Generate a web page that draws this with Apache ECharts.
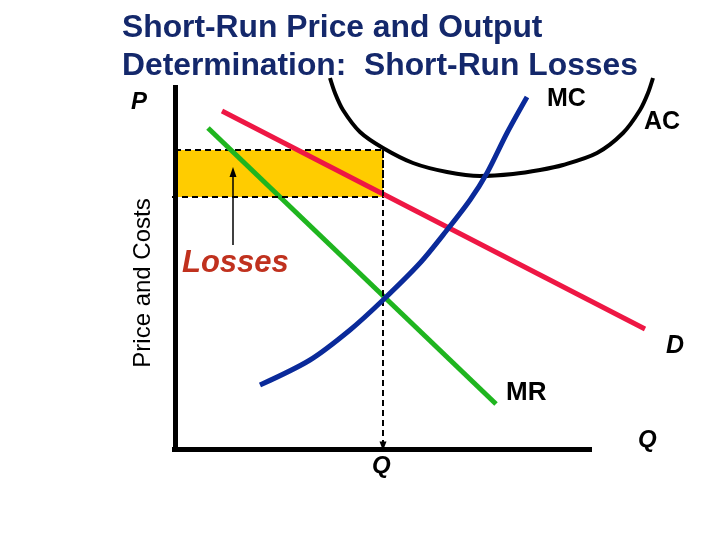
<!DOCTYPE html>
<html><head><meta charset="utf-8">
<script src="https://cdn.jsdelivr.net/npm/echarts@6/dist/echarts.min.js"></script>
<style>html,body{margin:0;padding:0;background:#fff}#c{width:720px;height:540px}</style>
</head><body><div id="c"></div>
<script>
// Demand (D)
const demandX = [47, 470];
const demandY = [338, 120];
// Marginal revenue (MR)
const mrX = [33, 321];
const mrY = [321, 45];
// Marginal cost (MC)
const mcX = [85, 135, 175, 208, 245, 272, 295, 312, 332, 352];
const mcY = [64, 89, 119, 149, 186, 219, 249, 276, 316, 352];
// Average cost (AC)
const acX = [155, 160, 168, 185, 208, 238, 272, 305, 338, 365, 388, 422, 448, 465, 473, 478];
const acY = [371, 356, 339, 317, 301, 286, 277, 273, 275, 279, 284, 296, 316, 339, 356, 371];
// Axis extents (quantity and price axes)
const qAxisMax = 417, pAxisMax = 364;
// Key levels
const qStar = 208, price = 252, avgCost = 299;
const lossArrowX = 58, lossArrowY = [204, 277];

const zip = (xs, ys) => xs.map((x, i) => [x, ys[i]]);
const FF = '"Liberation Sans", Arial, sans-serif';

const chart = echarts.init(document.getElementById('c'), null, {renderer: 'canvas'});
chart.setOption({
  animation: false,
  backgroundColor: '#fff',
  title: {
    text: 'Short-Run Price and Output\nDetermination:  Short-Run Losses',
    left: 117, top: 4,
    textStyle: {fontFamily: FF, fontSize: 31.8, fontWeight: 'bold', color: '#14286b', lineHeight: 38}
  },
  grid: {left: 170, top: 0, right: 0, bottom: 86},
  xAxis: {type: 'value', min: -5, max: 545, show: false},
  yAxis: {type: 'value', min: -5, max: 449, show: false},
  series: [
    {type: 'line', data: [], z: 1, silent: true,
      markArea: {silent: true,
        itemStyle: {color: '#FFCC00', borderColor: '#000', borderWidth: 2, borderType: [6, 4]},
        data: [[{coord: [0, avgCost]}, {coord: [qStar, price]}]]},
      markLine: {silent: true, symbol: ['none', 'none'], label: {show: false},
        lineStyle: {color: '#000', width: 2, type: [6, 4]},
        data: [
          [{coord: [-3, price]}, {coord: [qStar, price]}],
          [{coord: [lossArrowX, lossArrowY[0]], lineStyle: {type: 'solid', width: 1.5}},
           {coord: [lossArrowX, lossArrowY[1]], symbol: 'triangle', symbolSize: [7, 10]}]
        ]}
    },
    {type: 'line', data: [], z: 6, silent: true,
      markLine: {silent: true, symbol: ['none', 'none'], label: {show: false},
        lineStyle: {color: '#000', width: 5, type: 'solid'},
        data: [
          [{coord: [-3, 0]}, {coord: [qAxisMax, 0]}],
          [{coord: [0, -2]}, {coord: [0, pAxisMax]}]
        ]}
    },
    {type: 'line', data: [], z: 7, silent: true,
      markLine: {silent: true, symbol: ['none', 'none'], label: {show: false},
        lineStyle: {color: '#000', width: 2, type: [6, 4]},
        data: [
          [{coord: [qStar, avgCost]}, {coord: [qStar, 3], symbol: 'triangle', symbolSize: [7, 9], symbolRotate: 180}]
        ]}
    },
    {name: 'AC', type: 'line', data: zip(acX, acY), smooth: 0.3, showSymbol: false, z: 3,
      lineStyle: {color: '#000', width: 4}},
    {name: 'D', type: 'line', data: zip(demandX, demandY), showSymbol: false, z: 4,
      lineStyle: {color: '#ee1744', width: 5}},
    {name: 'MR', type: 'line', data: zip(mrX, mrY), showSymbol: false, z: 4,
      lineStyle: {color: '#1fb51f', width: 5}},
    {name: 'MC', type: 'line', data: zip(mcX, mcY), smooth: 0.3, showSymbol: false, z: 5,
      lineStyle: {color: '#0a2a9a', width: 5}}
  ],
  graphic: [
    {type: 'text', left: 131, top: 90, style: {text: 'P', font: 'italic bold 24px ' + FF, fill: '#000'}},
    {type: 'text', x: 143, y: 283, rotation: Math.PI / 2, style: {text: 'Price and Costs', font: '24px ' + FF, fill: '#000', textAlign: 'center', textVerticalAlign: 'middle'}},
    {type: 'text', left: 547, top: 87, style: {text: 'MC', font: 'bold 25px ' + FF, fill: '#000'}},
    {type: 'text', left: 644, top: 110, style: {text: 'AC', font: 'bold 25px ' + FF, fill: '#000'}},
    {type: 'text', left: 182, top: 248, style: {text: 'Losses', font: 'italic bold 31px ' + FF, fill: '#c0311e'}},
    {type: 'text', left: 666, top: 334, style: {text: 'D', font: 'italic bold 25px ' + FF, fill: '#000'}},
    {type: 'text', left: 506, top: 380, style: {text: 'MR', font: 'bold 26px ' + FF, fill: '#000'}},
    {type: 'text', left: 638, top: 428, style: {text: 'Q', font: 'italic bold 24px ' + FF, fill: '#000'}},
    {type: 'text', left: 372, top: 454, style: {text: 'Q', font: 'italic bold 24px ' + FF, fill: '#000'}}
  ]
});
</script></body></html>
